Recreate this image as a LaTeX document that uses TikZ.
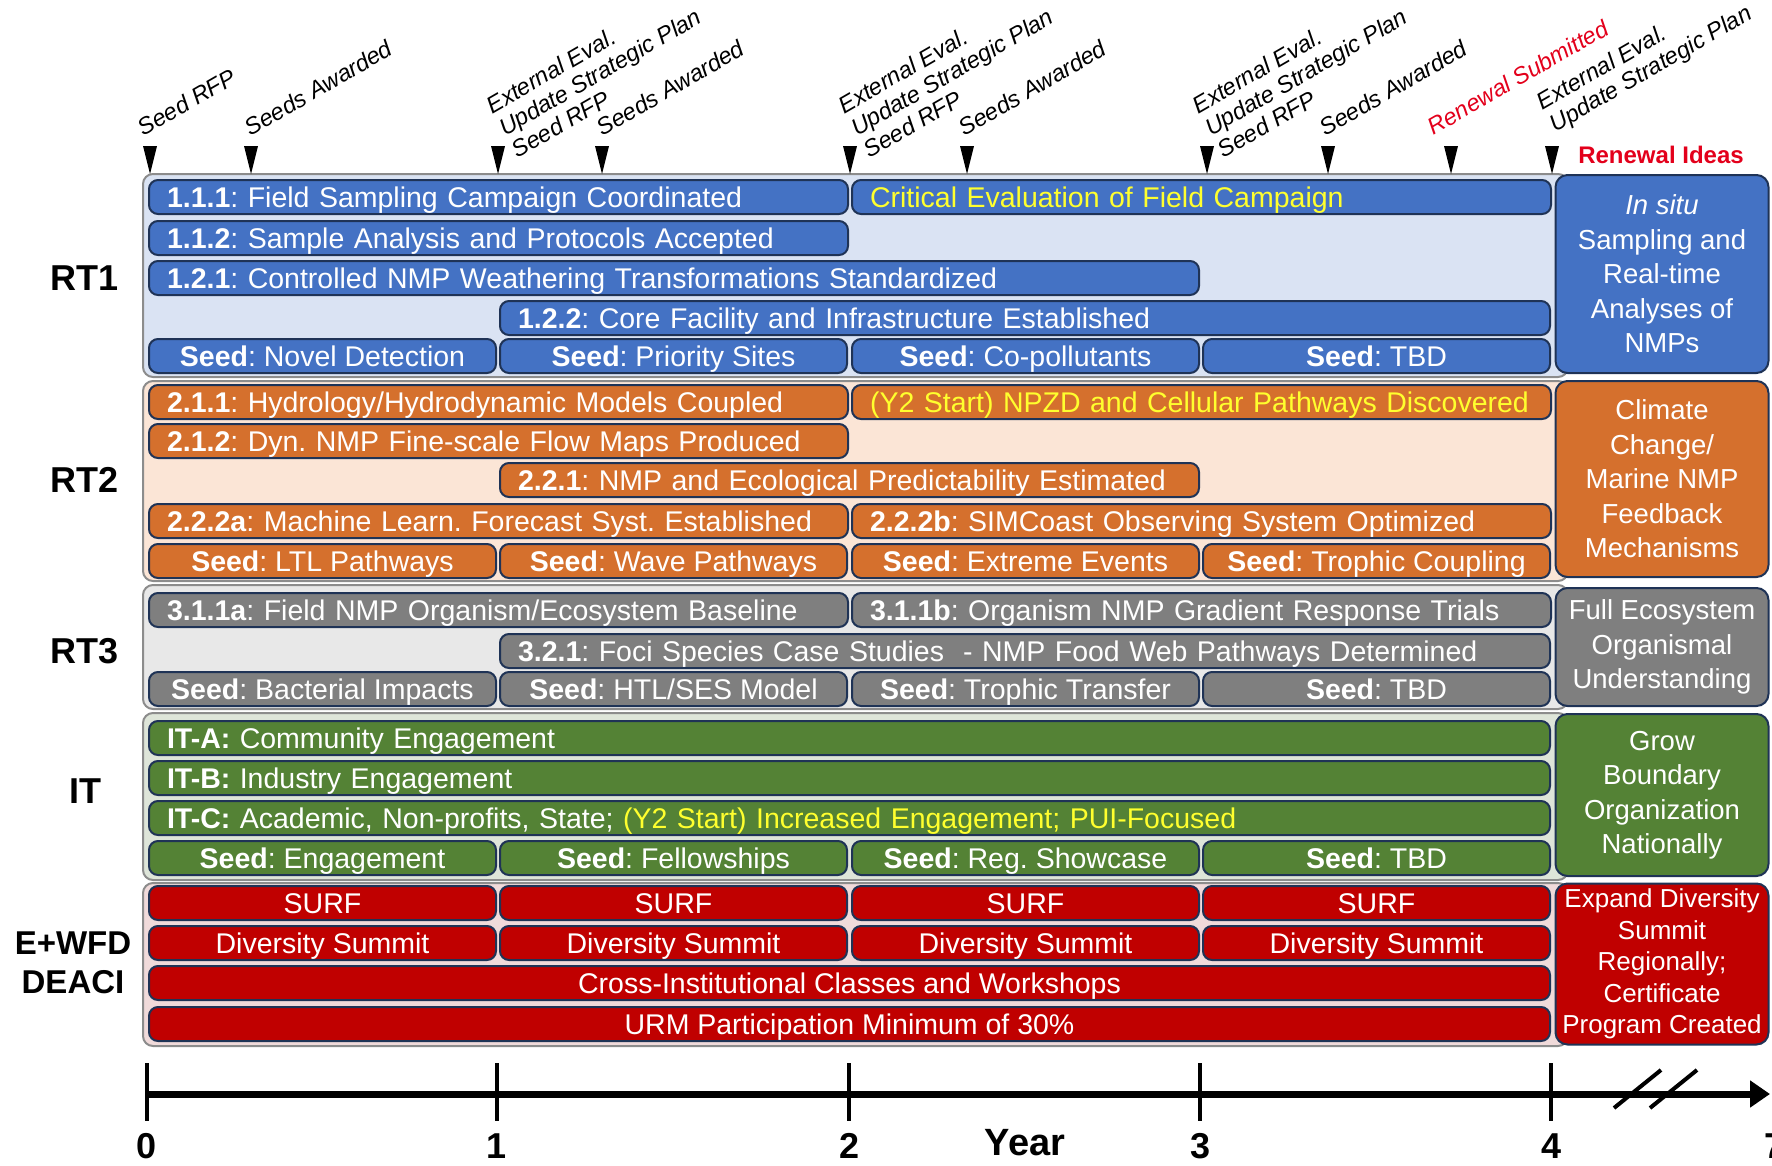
\documentclass[tikz,border=0pt]{standalone}
\usepackage{fontspec}
\setmainfont{Liberation Sans}
\usepackage{tikz}
\usetikzlibrary{arrows.meta}
\frenchspacing
\definecolor{barline}{HTML}{1F3356}
\definecolor{rtblue}{HTML}{4472C4}
\definecolor{rtblueback}{HTML}{DAE3F3}
\definecolor{rtorange}{HTML}{D5702D}
\definecolor{rtorangeback}{HTML}{FBE5D6}
\definecolor{rtgray}{HTML}{7F7F7F}
\definecolor{rtgrayback}{HTML}{E8E8E8}
\definecolor{itgreen}{HTML}{548235}
\definecolor{itgreenback}{HTML}{DEE5D9}
\definecolor{wfdred}{HTML}{C00000}
\definecolor{wfdredback}{HTML}{F0DADA}
\definecolor{hilite}{HTML}{FFFF2E}
\definecolor{renewred}{HTML}{E3001B}
\definecolor{panelline}{HTML}{8C8C8C}
\tikzset{
  bar/.style={rectangle, rounded corners=9pt, draw=barline, line width=2pt,
              minimum height=34pt, inner xsep=18pt, inner ysep=0pt,
              text height=21pt, text depth=1pt, text=white, anchor=west,
              font=\fontsize{28.5}{32}\selectfont\frenchspacing},
  lbar/.style={bar, text width=#1, align=left},
  cbar/.style={bar, minimum width=#1, align=center},
  panel/.style={rounded corners=10pt, draw=panelline, line width=2pt},
  idea/.style={rectangle, rounded corners=12pt, draw=barline, line width=2pt,
               minimum width=213pt, text=white, align=center, inner sep=0pt,
               font=\fontsize{27.5}{34.5}\selectfont},
  milestone/.style={rotate=30, anchor=south west, align=left, inner sep=0pt,
                    font=\fontsize{23.5}{25.5}\selectfont\itshape},
  rtlabel/.style={align=center, font=\fontsize{36}{39}\selectfont\bfseries},
  yearlabel/.style={font=\fontsize{36}{38}\selectfont\bfseries},
}
\begin{document}
\begin{tikzpicture}[x=1pt, y=-1pt]
  \useasboundingbox (0,0) rectangle (1772,1165);
  % group panels
  \filldraw[panel, fill=rtblueback] (143,174) rectangle (1568,377);
  \filldraw[panel, fill=rtorangeback] (143,381) rectangle (1568,581);
  \filldraw[panel, fill=rtgrayback] (143,585) rectangle (1568,709);
  \filldraw[panel, fill=itgreenback] (143,713) rectangle (1568,880);
  \filldraw[panel, fill=wfdredback] (143,883) rectangle (1568,1046);

  % milestones
  \foreach \x in {150,251,498,602,850,967,1207,1328,1451,1552}
    \fill (\x-7,146) -- (\x+7,146) -- (\x,174) -- cycle;
  \node[milestone] (m1) at (144,137) {Seed RFP};
  \node[milestone] (m2) at (251,137) {Seeds Awarded};
  \node[milestone] (m3) at (518,159) {External Eval.\\Update Strategic Plan\\Seed RFP};
  \node[milestone] (m4) at (603,137) {Seeds Awarded};
  \node[milestone] (m5) at (870,159) {External Eval.\\Update Strategic Plan\\Seed RFP};
  \node[milestone] (m6) at (965,137) {Seeds Awarded};
  \node[milestone] (m7) at (1224,159) {External Eval.\\Update Strategic Plan\\Seed RFP};
  \node[milestone] (m8) at (1326,137) {Seeds Awarded};
  \node[milestone, text=renewred] (m9) at (1434,136) {Renewal Submitted};
  \node[milestone] (m10) at (1558,137) {External Eval.\\Update Strategic Plan};
  \node[text=renewred, font=\fontsize{24}{26}\selectfont\bfseries] (ideas) at (1661,155) {Renewal Ideas};

  % RT1
  \node[rtlabel] (lrt1) at (85,278) {RT1};
  \node[lbar=663pt, fill=rtblue] (t111) at (148,197) {\textbf{1.1.1}: Field Sampling Campaign Coordinated};
  \node[lbar=663pt, fill=rtblue, text=hilite] (tcrit) at (851,197) {Critical Evaluation of Field Campaign};
  \node[lbar=663pt, fill=rtblue] (t112) at (148,238) {\textbf{1.1.2}: Sample Analysis and Protocols Accepted};
  \node[lbar=1014pt, fill=rtblue] (t121) at (148,278) {\textbf{1.2.1}: Controlled NMP Weathering Transformations Standardized};
  \node[lbar=1014pt, fill=rtblue] (t122) at (499,318) {\textbf{1.2.2}: Core Facility and Infrastructure Established};
  \foreach \x/\s [count=\i] in {148/Novel Detection, 499/Priority Sites, 851/Co-pollutants, 1202/TBD}
    \node[cbar=347pt, fill=rtblue] (sa\i) at (\x,356) {\textbf{Seed}: \s};
  \node[idea, fill=rtblue, minimum height=198pt] (r1) at (1662,274)
    {\textit{In situ}\\Sampling and\\Real-time\\Analyses of\\NMPs};

  % RT2
  \node[rtlabel] (lrt2) at (85,480) {RT2};
  \node[lbar=663pt, fill=rtorange] (t211) at (148,402) {\textbf{2.1.1}: Hydrology/Hydrodynamic Models Coupled};
  \node[lbar=663pt, fill=rtorange, text=hilite] (tnpzd) at (851,402) {(Y2 Start) NPZD and Cellular Pathways Discovered};
  \node[lbar=663pt, fill=rtorange] (t212) at (148,441) {\textbf{2.1.2}: Dyn. NMP Fine-scale Flow Maps Produced};
  \node[lbar=663pt, fill=rtorange] (t221) at (499,480) {\textbf{2.2.1}: NMP and Ecological Predictability Estimated};
  \node[lbar=663pt, fill=rtorange] (t222a) at (148,521) {\textbf{2.2.2a}: Machine Learn. Forecast Syst. Established};
  \node[lbar=663pt, fill=rtorange] (t222b) at (851,521) {\textbf{2.2.2b}: SIMCoast Observing System Optimized};
  \foreach \x/\s [count=\i] in {148/LTL Pathways, 499/Wave Pathways, 851/Extreme Events, 1202/Trophic Coupling}
    \node[cbar=347pt, fill=rtorange] (sb\i) at (\x,561) {\textbf{Seed}: \s};
  \node[idea, fill=rtorange, minimum height=196pt] (r2) at (1662,479)
    {Climate\\Change/\\Marine NMP\\Feedback\\Mechanisms};

  % RT3
  \node[rtlabel] (lrt3) at (85,651) {RT3};
  \node[lbar=663pt, fill=rtgray] (t311a) at (148,610) {\textbf{3.1.1a}: Field NMP Organism/Ecosystem Baseline};
  \node[lbar=663pt, fill=rtgray] (t311b) at (851,610) {\textbf{3.1.1b}: Organism NMP Gradient Response Trials};
  \node[lbar=1014pt, fill=rtgray] (t321) at (499,651) {\textbf{3.2.1}: Foci Species Case Studies\ \ - NMP Food Web Pathways Determined};
  \foreach \x/\s [count=\i] in {148/Bacterial Impacts, 499/HTL\slash SES Model, 851/Trophic Transfer, 1202/TBD}
    \node[cbar=347pt, fill=rtgray] (sc\i) at (\x,689) {\textbf{Seed}: \s};
  \node[idea, fill=rtgray, minimum height=118pt] (r3) at (1662,647)
    {Full Ecosystem\\Organismal\\Understanding};

  % IT
  \node[rtlabel] (lit) at (85,791) {IT};
  \node[lbar=1365pt, fill=itgreen] (tita) at (148,738) {\textbf{IT-A:} Community Engagement};
  \node[lbar=1365pt, fill=itgreen] (titb) at (148,778) {\textbf{IT-B:} Industry Engagement};
  \node[lbar=1365pt, fill=itgreen] (titc) at (148,818) {\textbf{IT-C:} Academic, Non-profits, State; \textcolor{hilite}{(Y2 Start) Increased Engagement; PUI-Focused}};
  \foreach \x/\s [count=\i] in {148/Engagement, 499/Fellowships, 851/Reg. Showcase, 1202/TBD}
    \node[cbar=347pt, fill=itgreen] (sd\i) at (\x,858) {\textbf{Seed}: \s};
  \node[idea, fill=itgreen, minimum height=162pt] (r4) at (1662,795)
    {Grow\\Boundary\\Organization\\Nationally};

  % E+WFD
  \node[rtlabel, font=\fontsize{33}{39}\selectfont\bfseries] (lwfd) at (73,963) {E+WFD\\DEACI};
  \foreach \x [count=\i] in {148,499,851,1202} {
    \node[cbar=347pt, fill=wfdred] (surf\i) at (\x,903) {SURF};
    \node[cbar=347pt, fill=wfdred] (summit\i) at (\x,943) {Diversity Summit};
  }
  \node[cbar=1401pt, fill=wfdred] (tcross) at (148,983) {Cross-Institutional Classes and Workshops};
  \node[cbar=1401pt, fill=wfdred] (turm) at (148,1024) {URM Participation Minimum of 30\%};
  \node[idea, fill=wfdred, minimum height=161pt, font=\fontsize{26}{31.5}\selectfont] (r5) at (1662,964)
    {Expand Diversity\\Summit\\Regionally;\\Certificate\\Program Created};

  % year axis
  \coordinate (a0) at (147,1094);
  \coordinate (aend) at (1770,1094);
  \draw[line width=7pt, -{Triangle[length=20pt,width=26pt]}] (a0) -- (aend);
  \foreach \x/\y in {147/0, 497/1, 849/2, 1200/3, 1551/4} {
    \draw[line width=4pt] (\x,1063) -- (\x,1121);
    \node[yearlabel] (yr\y) at (\x,1146) {\y};
  }
  \node[yearlabel] (yr7) at (1774,1146) {7};
  \node[yearlabel, font=\fontsize{38}{40}\selectfont\bfseries] (yearname) at (1025,1143) {Year};
  \draw[line width=4pt] (1614,1108) -- (1661,1070);
  \draw[line width=4pt] (1650,1108) -- (1697,1070);
\end{tikzpicture}
\end{document}
